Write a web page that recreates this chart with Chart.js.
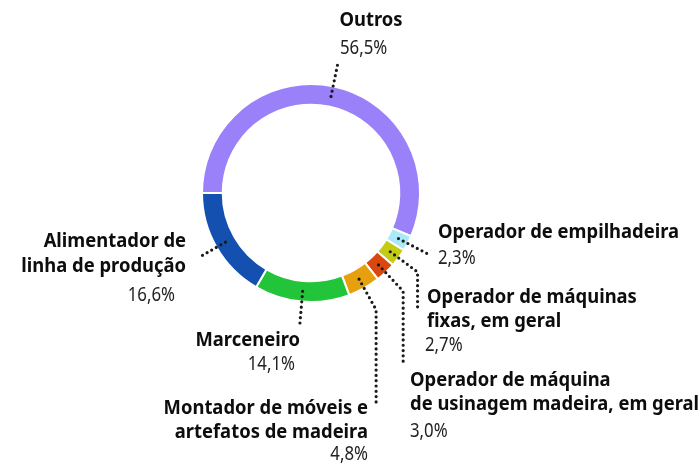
<!DOCTYPE html>
<html>
<head>
<meta charset="utf-8">
<script src="https://cdn.jsdelivr.net/npm/chart.js@4"></script>
<style>
  html, body { margin: 0; padding: 0; background: #fff; }
  #wrap { width: 699px; height: 463px; }
</style>
</head>
<body>
<div id="wrap"><canvas id="grafico" width="699" height="463"></canvas></div>
<script>
// Dados do gráfico
const categorias = [
    'Outros',
    'Operador de empilhadeira',
    'Operador de máquinas fixas, em geral',
    'Operador de máquina de usinagem madeira, em geral',
    'Montador de móveis e artefatos de madeira',
    'Marceneiro',
    'Alimentador de linha de produção'
];
const valores = [56.5, 2.3, 2.7, 3.0, 4.8, 14.1, 16.6];
const rotulos = [
    ['Outros'],
    ['Operador de empilhadeira'],
    ['Operador de máquinas', 'fixas, em geral'],
    ['Operador de máquina', 'de usinagem madeira, em geral'],
    ['Montador de móveis e', 'artefatos de madeira'],
    ['Marceneiro'],
    ['Alimentador de', 'linha de produção']
];
const cores = ['#9a80f9', '#a9e9f9', '#c4cb14', '#d9480f', '#e6a00e', '#22c43a', '#1450b0'];

const formatarPct = (v) => v.toFixed(1).replace('.', ',') + '%';

// Posição de cada rótulo (linha pontilhada, texto e valor)
const layoutRotulos = [
    { ext: 35, ate: null, x: 371, y: [20], align: 'center', xv: 340, yv: 48, alignV: 'left' },
    { ext: 35, ate: null, x: 438, y: [232], align: 'left', xv: 438, yv: 258, alignV: 'left' },
    { ext: 34, ate: 310, x: 427, y: [297, 321], align: 'left', xv: 425, yv: 345, alignV: 'left' },
    { ext: 36, ate: 365, x: 410, y: [380, 404], align: 'left', xv: 410, yv: 431, alignV: 'left' },
    { ext: 35, ate: 407, x: 368, y: [408, 432], align: 'right', xv: 368, yv: 454, alignV: 'right' },
    { ext: 35, ate: null, x: 300, y: [340], align: 'right', xv: 295, yv: 364, alignV: 'right' },
    { ext: 31, ate: null, x: 186, y: [241, 266], align: 'right', xv: 175, yv: 295, alignV: 'right' }
];

function textoCondensado(ctx, txt, x, y, align, escala) {
    const w = ctx.measureText(txt).width * escala;
    let x0 = x;
    if (align === 'center') x0 = x - w / 2;
    else if (align === 'right') x0 = x - w;
    ctx.save();
    ctx.translate(x0, y);
    ctx.scale(escala, 1);
    ctx.textAlign = 'left';
    ctx.fillText(txt, 0, 0);
    ctx.restore();
}

const pluginRotulos = {
    id: 'rotulos',
    afterDatasetsDraw(chart) {
        const ctx = chart.ctx;
        const arcos = chart.getDatasetMeta(0).data;
        arcos.forEach((arco, i) => {
            const cfg = layoutRotulos[i];
            const { x, y, startAngle, endAngle, innerRadius, outerRadius } = arco.getProps(
                ['x', 'y', 'startAngle', 'endAngle', 'innerRadius', 'outerRadius'], true);
            const ang = (startAngle + endAngle) / 2;
            const r = (innerRadius + outerRadius) / 2;
            const x1 = x + Math.cos(ang) * r;
            const y1 = y + Math.sin(ang) * r;
            const x2 = x + Math.cos(ang) * (r + cfg.ext);
            const y2 = y + Math.sin(ang) * (r + cfg.ext);

            // linha pontilhada
            ctx.save();
            ctx.strokeStyle = '#1a1a1a';
            ctx.lineWidth = 3.2;
            ctx.lineCap = 'round';
            ctx.setLineDash([0, 5.3]);
            ctx.beginPath();
            ctx.moveTo(x1, y1);
            ctx.lineTo(x2, y2);
            if (cfg.ate !== null) ctx.lineTo(x2, cfg.ate);
            ctx.stroke();
            ctx.restore();

            // textos
            ctx.save();
            ctx.textBaseline = 'middle';
            ctx.fillStyle = '#0d0d0d';
            ctx.font = 'bold 20px "Noto Sans"';
            rotulos[i].forEach((linha, k) => textoCondensado(ctx, linha, cfg.x, cfg.y[k], cfg.align, 0.92));
            ctx.fillStyle = '#222222';
            ctx.font = '20px "Noto Sans"';
            textoCondensado(ctx, formatarPct(valores[i]), cfg.xv, cfg.yv, cfg.alignV, 0.84);
            ctx.restore();
        });
    }
};

const ctx = document.getElementById('grafico').getContext('2d');
new Chart(ctx, {
    type: 'doughnut',
    data: {
        labels: categorias,
        datasets: [{
            data: valores,
            backgroundColor: cores,
            borderColor: '#ffffff',
            borderWidth: 2
        }]
    },
    options: {
        responsive: false,
        animation: false,
        rotation: -90,
        cutout: '81%',
        layout: {
            padding: { left: 201, top: 83, right: 278, bottom: 160 }
        },
        plugins: {
            legend: { display: false },
            tooltip: { enabled: false }
        }
    },
    plugins: [pluginRotulos]
});
</script>
</body>
</html>
